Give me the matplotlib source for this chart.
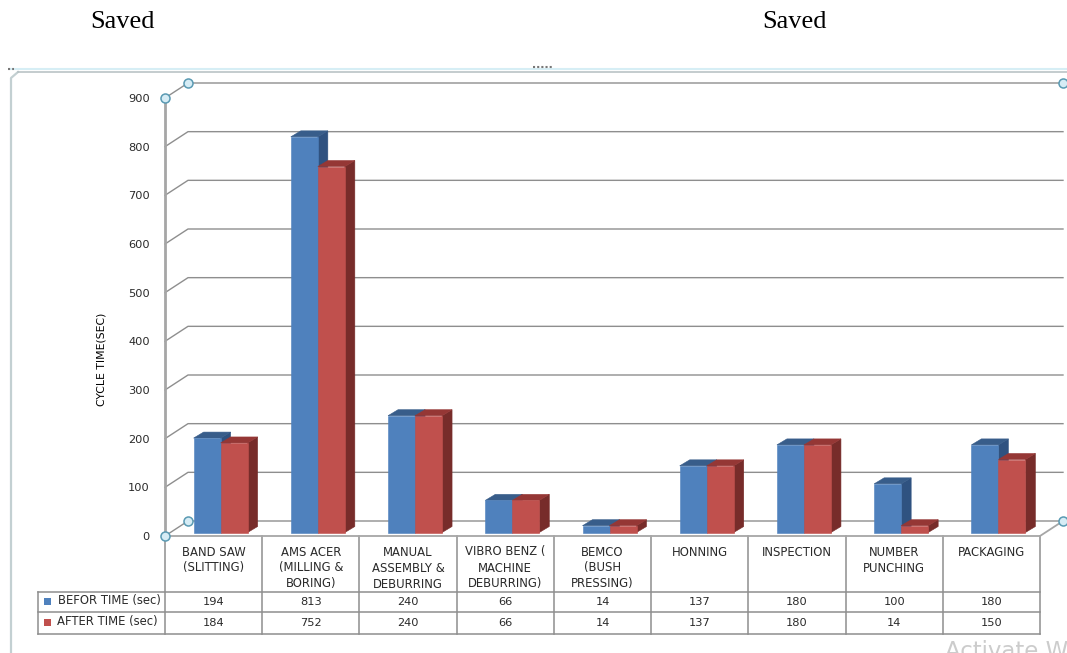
# -*- coding: utf-8 -*-
import numpy as np
import matplotlib
matplotlib.use('Agg')
from matplotlib import pyplot as plt
from matplotlib.patches import Polygon, Rectangle

plt.rcParams['font.family'] = ['DejaVu Sans']

categories = ['BAND SAW\n(SLITTING)', 'AMS ACER\n(MILLING &\nBORING)', 'MANUAL\nASSEMBLY &\nDEBURRING',
              'VIBRO BENZ (\nMACHINE\nDEBURRING)', 'BEMCO\n(BUSH\nPRESSING)', 'HONNING', 'INSPECTION',
              'NUMBER\nPUNCHING', 'PACKAGING']
before = [194, 813, 240, 66, 14, 137, 180, 100, 180]
after = [184, 752, 240, 66, 14, 137, 180, 14, 150]
yticks = [0, 100, 200, 300, 400, 500, 600, 700, 800, 900]
series_names = ['BEFOR TIME (sec)', 'AFTER TIME (sec)']

W, H = 1067, 653
GRID = '#8e8e8e'
TEXT = '#2a2a2a'

fig = plt.figure(figsize=(W / 100, H / 100), dpi=100, facecolor='white')

# overlay in pixel coords for frame, table and so on
bg = fig.add_axes([0, 0, 1, 1])
bg.set_xlim(0, W)
bg.set_ylim(H, 0)
bg.axis('off')

# front plane of the fake 3d chart
x0, x1, y0, y1 = 165, 1040, 536, 98
ax = fig.add_axes([x0 / W, 1 - y0 / H, (x1 - x0) / W, (y0 - y1) / H])
ax.set_xlim(0, 9)
ax.set_ylim(0, 900)
ax.patch.set_alpha(0)
px = 9 / (x1 - x0)
py = 900 / (y0 - y1)

# chart frame
bg.plot([11, 11, 18], [H, 78, 72], color='#c3d0d2', lw=1.6)
bg.plot([18, W], [71.5, 71.5], color='#b4bfc1', lw=1.1)
bg.plot([10, W], [68.5, 68.5], color='#d6eef5', lw=1.5)
bg.plot([533, 552], [66.5, 66.5], color='#777777', lw=1.5, ls=(0, (1, 1)))
bg.plot([8, 14], [69, 69], color='#777777', lw=1.5, ls=(0, (1, 1)))

# walls
wx, wy = 23 * px, 15 * py
for v in yticks:
    ax.plot([0, wx, 9 + wx], [v, v + wy, v + wy], color=GRID, lw=1, clip_on=False, zorder=1)
ax.plot([0, 9, 9 + wx], [0, 0, wy], color='#a6a6a6', lw=1.3, clip_on=False, zorder=1)
ax.plot([0, 0], [0, 900], color='#a6a6a6', lw=2, clip_on=False, zorder=2)

# bars
bw = 27 * px
sx, sy = 10 * px, 6 * py
off_x, off_y = 7 * px, 3.5 * py
styles = [('#4f81bd', '#2f5280', '#385d8a'), ('#c0504d', '#772c2a', '#953735')]
positions = np.arange(len(categories)) + 0.5 + off_x
for i, vals in enumerate([before, after]):
    front, side, top = styles[i]
    xs = positions + (i - 1) * bw
    for x, v in zip(xs, vals):
        ax.add_patch(Polygon([(x + bw, off_y), (x + bw + sx, off_y + sy), (x + bw + sx, off_y + v + sy),
                              (x + bw, off_y + v)], fc=side, ec=side, lw=0.4, clip_on=False, zorder=3 + i))
        ax.add_patch(Polygon([(x, off_y + v), (x + sx, off_y + v + sy), (x + bw + sx, off_y + v + sy),
                              (x + bw, off_y + v)], fc=top, ec=top, lw=0.4, clip_on=False, zorder=3 + i))
    ax.bar(xs, vals, width=bw, bottom=off_y, align='edge', color=front, edgecolor=front, lw=0.4,
           clip_on=False, zorder=3 + i)

ax.set_xticks([])
ax.set_yticks(yticks)
ax.tick_params(axis='y', length=0, pad=11, labelsize=8.2, labelcolor=TEXT)
for s in ax.spines.values():
    s.set_visible(False)
ax.set_ylabel('CYCLE TIME(SEC)', fontsize=7.8, color='black')
ax.yaxis.set_label_coords((106 - x0) / (x1 - x0), (y0 - 359) / (y0 - y1))

# selection handles
handle = dict(ls='none', marker='o', ms=6.5, mfc='#d6ecf5', mec='#5a9ab3', mew=1.1, clip_on=False, zorder=6)
ax.plot([0, wx, 0, wx, 9 + wx, 9 + wx], [900, 900 + wy, 0, wy, wy, 900 + wy], **handle)

# data table
cell = (x1 - x0) / 9
r0, r1, r2 = 592, 612, 634
edges = [x0 + cell * i for i in range(10)]
for y in (r0, r1, r2):
    bg.plot([38, x1], [y, y], color=GRID, lw=1.1)
bg.plot([38, 38], [r0, r2], color=GRID, lw=1.1)
for e in edges:
    bg.plot([e, e], [y0, r2], color=GRID, lw=1.1)
for i, label in enumerate(categories):
    c = (edges[i] + edges[i + 1]) / 2
    for j, line in enumerate(label.split('\n')):
        bg.text(c, 552 + j * 16, line, ha='center', va='center', fontsize=8.4, color=TEXT)
    bg.text(c, 602, str(before[i]), ha='center', va='center', fontsize=8.2, color=TEXT)
    bg.text(c, 623, str(after[i]), ha='center', va='center', fontsize=8.2, color=TEXT)
for y, name, st, tx in zip((601, 622), series_names, styles, (58, 57)):
    bg.add_patch(Rectangle((44, y - 3.5), 7, 7, fc=st[0], ec='none'))
    bg.text(tx, y - 0.5, name, ha='left', va='center', fontsize=8.4, color=TEXT)

# stuff around the chart
bg.text(122, 21.5, 'Saved', ha='center', va='center', fontsize=19, family='Liberation Serif', color='black')
bg.text(794, 21.5, 'Saved', ha='center', va='center', fontsize=19, family='Liberation Serif', color='black')
bg.text(945, 651, 'Activate W', ha='left', va='center', fontsize=16.5, color='#cccccc', clip_on=True)

fig.savefig('out.png', dpi=100)
